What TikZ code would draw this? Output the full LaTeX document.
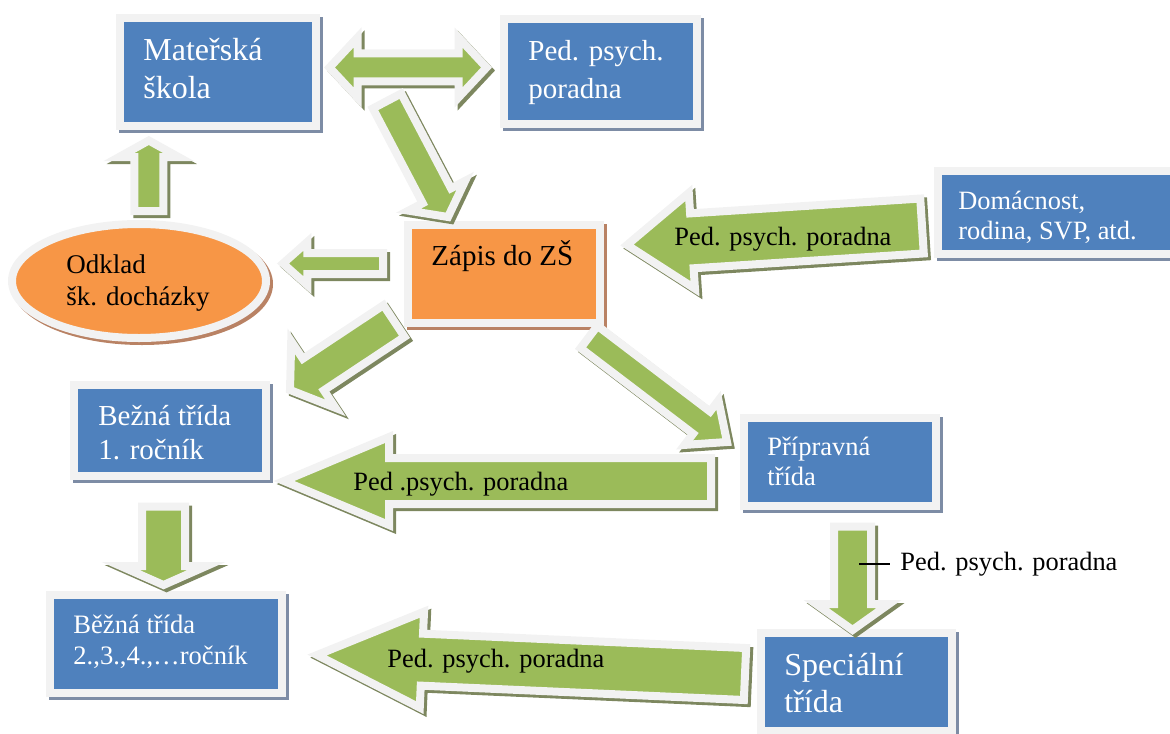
\documentclass[tikz,border=0pt]{standalone}
\usepackage{fontspec}
\setmainfont{Liberation Serif}
\usetikzlibrary{calc,fit,shapes.geometric}
\definecolor{bblue}{HTML}{4F81BD}
\definecolor{borange}{HTML}{F79646}
\definecolor{agreen}{HTML}{9BBB59}
\definecolor{frame}{HTML}{F2F2F2}
\definecolor{bshadow}{RGB}{125,140,165}
\definecolor{gshadow}{RGB}{125,135,95}
\definecolor{oshadow}{RGB}{185,130,100}
\tikzset{
  shadowpre/.style={preaction={draw=#1, fill=#1, line width=4pt, line join=miter,
      transform canvas={xshift=1.5pt,yshift=-1.5pt}}},
  bluebox/.style={draw=frame, fill=bblue, line width=4pt, inner sep=0pt, shadowpre=bshadow},
  orangebox/.style={draw=frame, fill=borange, line width=4pt, inner sep=0pt, shadowpre=oshadow},
  arrowbody/.style={fill=agreen, draw=frame, line width=4pt, line join=miter, shadowpre=gshadow},
  wtxt/.style={text=white, anchor=base west, inner sep=0pt},
  btxt/.style={text=black, anchor=base west, inner sep=0pt},
  lbl/.style={btxt, font=\fontsize{13.2}{16}\selectfont},
}
\newcommand\barrow[5]{%
  \coordinate (hb) at ($(#2)!#5!(#1)$);
  \path[arrowbody] ($(#1)!#3!90:(#2)$) -- ($(hb)!#3!90:(#2)$) -- ($(hb)!#4!90:(#2)$) -- (#2)
    -- ($(hb)!#4!-90:(#2)$) -- ($(hb)!#3!-90:(#2)$) -- ($(#1)!#3!-90:(#2)$) -- cycle;}
\newcommand\dbarrow[5]{%
  \coordinate (hba) at ($(#1)!#5!(#2)$);
  \coordinate (hbb) at ($(#2)!#5!(#1)$);
  \path[arrowbody] (#1) -- ($(hba)!#4!90:(#2)$) -- ($(hba)!#3!90:(#2)$) -- ($(hbb)!#3!90:(#2)$)
    -- ($(hbb)!#4!90:(#2)$) -- (#2) -- ($(hbb)!#4!-90:(#2)$) -- ($(hbb)!#3!-90:(#2)$)
    -- ($(hba)!#3!-90:(#2)$) -- ($(hba)!#4!-90:(#2)$) -- cycle;}
\begin{document}
\begin{tikzpicture}[x=0.5pt,y=-0.5pt]
\useasboundingbox (0,0) rectangle (1170,733);
\clip (0,0) rectangle (1170,733);
% boxes
\node[bluebox, fit={(120,18) (316,126)}] (mat) {};
\node[bluebox, fit={(504,19) (697,124)}] (ppp) {};
\node[orangebox, fit={(408,225) (600,323)}] (zap) {};
\node[bluebox, fit={(938,171) (1185,254)}] (dom) {};
\node[bluebox, fit={(74,385) (266,476)}] (bez1) {};
\node[bluebox, fit={(744,418) (936,506)}] (prip) {};
\node[bluebox, fit={(50,595) (282,693)}] (bez2) {};
\node[bluebox, fit={(761,633) (952,731)}] (spec) {};
\node[ellipse, draw=frame, fill=borange, line width=4pt, inner sep=0pt,
      minimum width=127pt, minimum height=57pt, shadowpre=oshadow] (odk) at (139,281) {};
% box texts
\node[wtxt, font=\fontsize{16}{19}\selectfont] (t1) at (143,61) {Mateřská};
\node[wtxt, font=\fontsize{16}{19}\selectfont] (t2) at (143,98) {škola};
\node[wtxt, font=\fontsize{14.5}{17}\selectfont] (t3) at (528,61) {Ped. psych.};
\node[wtxt, font=\fontsize{14.5}{17}\selectfont] (t4) at (528,98) {poradna};
\node[btxt, font=\fontsize{14.5}{17}\selectfont] (t5) at (431,265) {Zápis do ZŠ};
\node[wtxt, font=\fontsize{13.2}{15}\selectfont] (t6) at (958,209) {Domácnost,};
\node[wtxt, font=\fontsize{13.2}{15}\selectfont] (t7) at (958,239) {rodina, SVP, atd.};
\node[btxt, font=\fontsize{13.5}{16}\selectfont] (t8) at (66,273) {Odklad};
\node[btxt, font=\fontsize{13.5}{16}\selectfont] (t9) at (66,305) {šk. docházky};
\node[wtxt, font=\fontsize{14.5}{17}\selectfont] (t10) at (98,425) {Bežná třída};
\node[wtxt, font=\fontsize{14.5}{17}\selectfont] (t11) at (98,459) {1. ročník};
\node[wtxt, font=\fontsize{13.25}{16}\selectfont] (t12) at (767,455) {Přípravná};
\node[wtxt, font=\fontsize{13.25}{16}\selectfont] (t13) at (767,485) {třída};
\node[wtxt, font=\fontsize{13.3}{16}\selectfont] (t14) at (73,633) {Běžná třída};
\node[wtxt, font=\fontsize{13.3}{16}\selectfont] (t15) at (73,664) {2.,3.,4.,…ročník};
\node[wtxt, font=\fontsize{16}{19}\selectfont] (t16) at (784,675) {Speciální};
\node[wtxt, font=\fontsize{16}{19}\selectfont] (t17) at (784,712) {třída};
% arrow end points
\coordinate (a1s) at (148.8,211);  \coordinate (a1e) at (148.8,140.5);
\coordinate (a2s) at (329.5,67.5); \coordinate (a2e) at (486.5,67.5);
\coordinate (a3s) at (387,101);    \coordinate (a3e) at (448,217);
\coordinate (a4s) at (383,263.5);  \coordinate (a4e) at (283,263.5);
\coordinate (a5s) at (394,321);    \coordinate (a5e) at (290,390);
\coordinate (a6s) at (589,337);    \coordinate (a6e) at (727,442);
\coordinate (a7s) at (711,481);    \coordinate (a7e) at (284,481);
\coordinate (a8s) at (852.5,526.5);\coordinate (a8e) at (852.5,630);
\coordinate (a9s) at (745,674);    \coordinate (a9e) at (317,655);
\coordinate (a10s) at (922,226);   \coordinate (a10e) at (627,245);
\coordinate (a11s) at (163.5,506.5); \coordinate (a11e) at (163.5,585);
% arrows
\barrow{a1s}{a1e}{7.25pt}{14.85pt}{8.25pt}
\dbarrow{a2s}{a2e}{7pt}{15pt}{14pt}
\barrow{a3s}{a3e}{8pt}{16pt}{12pt}
\barrow{a4s}{a4e}{5.25pt}{10.8pt}{12.15pt}
\barrow{a5s}{a5e}{9.5pt}{20pt}{14pt}
\barrow{a6s}{a6e}{7pt}{14pt}{16pt}
\barrow{a7s}{a7e}{11.5pt}{22pt}{52.5pt}
\barrow{a8s}{a8e}{9.25pt}{18.25pt}{13pt}
\barrow{a9s}{a9e}{13pt}{24pt}{52.5pt}
\barrow{a10s}{a10e}{13.75pt}{24pt}{32.5pt}
\barrow{a11s}{a11e}{10.75pt}{21.5pt}{9.5pt}
% arrow labels
\node[lbl] (l1) at (674,245) {Ped. psych. poradna};
\node[lbl] (l2) at (353,490) {Ped .psych. poradna};
\node[lbl] (l3) at (387,667) {Ped. psych. poradna};
\node[lbl] (l4) at (900,570) {Ped. psych. poradna};
\coordinate (l4a) at (859,564);
\coordinate (l4b) at (890,564);
\draw[line width=0.8pt] (l4a) -- (l4b);
\end{tikzpicture}
\end{document}
